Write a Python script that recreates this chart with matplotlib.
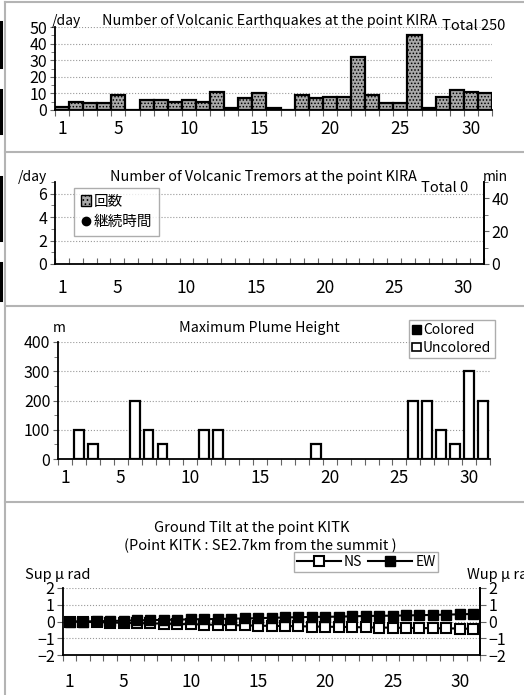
import matplotlib.pyplot as plt
import matplotlib.patches as mpatches
from matplotlib.lines import Line2D
from matplotlib.ticker import MultipleLocator, FixedLocator
import numpy as np

plt.rcParams['font.family'] = ['Noto Sans CJK JP', 'DejaVu Sans']
plt.rcParams['hatch.linewidth'] = 0.7
plt.rcParams['axes.unicode_minus'] = True

# --- data ---
days = np.arange(1, 32)
day_labels = [1, 5, 10, 15, 20, 25, 30]

quakes = [2, 5, 4, 4, 9, 0, 6, 6, 5, 6,
          5, 11, 1, 7, 10, 1, 0, 9, 7, 8,
          8, 32, 9, 4, 4, 45, 1, 8, 12, 11, 10]
quake_total = 250
tremor_total = 0

plume_days = [2, 3, 6, 7, 8, 11, 12, 19, 26, 27, 28, 29, 30, 31]
plume_heights = [100, 50, 200, 100, 50, 100, 100, 50, 200, 200, 100, 50, 300, 200]

tilt_ns = [0.0, -0.02, -0.04, -0.06, -0.08, -0.1, -0.11, -0.13, -0.15, -0.16,
           -0.18, -0.2, -0.22, -0.23, -0.25, -0.26, -0.27, -0.28, -0.3, -0.31,
           -0.32, -0.33, -0.35, -0.36, -0.37, -0.38, -0.39, -0.4, -0.41, -0.42, -0.44]
tilt_ew = [0.0, 0.0, 0.02, 0.03, 0.05, 0.07, 0.08, 0.1, 0.11, 0.13,
           0.14, 0.15, 0.17, 0.18, 0.2, 0.22, 0.24, 0.26, 0.27, 0.28,
           0.29, 0.31, 0.33, 0.34, 0.35, 0.36, 0.38, 0.39, 0.41, 0.43, 0.45]

W, H = 524, 695
fig = plt.figure(figsize=(W / 100, H / 100), dpi=100)

YT = 11.5   # y tick label size
XT = 12.5   # day label size


def px_axes(left, top, right, bottom):
    return fig.add_axes([left / W, 1 - bottom / H, (right - left) / W, (bottom - top) / H])


def ftext(x, y, s, **kw):
    kw.setdefault('va', 'center')
    kw.setdefault('fontsize', 10)
    fig.text(x / W, 1 - y / H, s, **kw)


def fline(xs, ys, **kw):
    fig.add_artist(Line2D([x / W for x in xs], [1 - y / H for y in ys],
                          transform=fig.transFigure, **kw))


def day_axis(ax, tick_dir='out', pad=8):
    ax.set_xlim(0.5, 31.5)
    ax.set_xticks(day_labels)
    ax.tick_params(axis='x', which='major', length=0, labelsize=XT, pad=pad)
    ax.xaxis.set_minor_locator(FixedLocator(np.arange(0.5, 31.6, 1)))
    ax.tick_params(axis='x', which='minor', length=4, direction=tick_dir,
                   color='#666666', width=0.8)
    for s in ['top', 'right']:
        ax.spines[s].set_visible(False)
    for s in ['left', 'bottom']:
        ax.spines[s].set_linewidth(1.3)
    ax.tick_params(axis='y', which='both', labelsize=YT, pad=2, color='#666666')
    ax.tick_params(axis='y', which='minor', length=3)
    ax.yaxis.grid(True, which='major', linestyle=':', color='#999999', lw=0.8)
    ax.set_axisbelow(True)


# panel frames and left-edge artifacts
frame = '#b4b4b4'
for y in [2, 152, 306, 502]:
    fline([5, 524], [y, y], color=frame, lw=1.5)
fline([5, 5], [2, 695], color=frame, lw=1.5)
for y0, y1 in [(22, 67), (90, 133), (177, 240), (263, 300)]:
    fline([1, 1], [y0, y1], color='black', lw=2.2)

# --- panel 1: volcanic earthquakes ---
ax1 = px_axes(55, 27, 492, 110)
ax1.bar(days, quakes, width=1.0, color='#a9a9a9', edgecolor='black', lw=1.6, hatch='.....')
ax1.set_ylim(0, 50)
ax1.yaxis.set_major_locator(MultipleLocator(10))
ax1.yaxis.set_minor_locator(MultipleLocator(5))
day_axis(ax1, 'out', pad=7)
ftext(52, 21, '/day')
ftext(270, 21, 'Number of Volcanic Earthquakes at the point KIRA', ha='center', fontsize=10.3)
ftext(442, 26, f'Total {quake_total}', ha='left', fontsize=10.5)

# --- panel 2: volcanic tremors ---
ax2 = px_axes(55, 182, 484, 264)
ax2.set_ylim(0, 7)
ax2.yaxis.set_major_locator(MultipleLocator(2))
ax2.yaxis.set_minor_locator(MultipleLocator(1))
day_axis(ax2, 'in', pad=11)
ax2.spines['right'].set_visible(True)
ax2.spines['right'].set_linewidth(1.3)
ax2b = ax2.twinx()
ax2b.set_ylim(0, 50)
ax2b.yaxis.set_major_locator(MultipleLocator(20))
ax2b.yaxis.set_minor_locator(MultipleLocator(10))
ax2b.tick_params(axis='y', which='both', labelsize=YT, pad=2, color='#666666')
ax2b.tick_params(axis='y', which='minor', length=3)
for s in ['top', 'left', 'bottom']:
    ax2b.spines[s].set_visible(False)
ax2b.spines['right'].set_linewidth(1.3)
ftext(18, 177, '/day')
ftext(263, 177, 'Number of Volcanic Tremors at the point KIRA', ha='center', fontsize=10.3)
ftext(445, 188, f'Total {tremor_total}', ha='center', fontsize=10.5)
ftext(483, 177, 'min', ha='left')
h_count = mpatches.Patch(facecolor='#a9a9a9', edgecolor='black', hatch='....', label='回数')
h_dur = Line2D([], [], marker='o', color='black', ls='none', markersize=6, label='継続時間')
fig.legend(handles=[h_count, h_dur], loc='upper left', bbox_to_anchor=(74 / W, 1 - 188 / H),
           fontsize=10.5, frameon=True, fancybox=False, edgecolor='#999999',
           handlelength=0.7, handleheight=0.7, handletextpad=0.2, labelspacing=0.45,
           borderpad=0.45, borderaxespad=0)

# --- panel 3: plume height ---
ax3 = px_axes(58, 342, 490, 459)
ax3.bar(plume_days, plume_heights, width=0.7, color='white', edgecolor='black', lw=1.6)
ax3.set_ylim(0, 400)
ax3.yaxis.set_major_locator(MultipleLocator(100))
ax3.yaxis.set_minor_locator(MultipleLocator(50))
day_axis(ax3, 'out', pad=7)
ftext(59, 328, 'm', ha='center')
ftext(259, 328, 'Maximum Plume Height', ha='center', fontsize=10.3)
h_col = mpatches.Patch(facecolor='black', edgecolor='black', label='Colored')
h_unc = mpatches.Patch(facecolor='white', edgecolor='black', lw=1.2, label='Uncolored')
fig.legend(handles=[h_col, h_unc], loc='upper left', bbox_to_anchor=(409 / W, 1 - 320 / H),
           fontsize=10, frameon=True, fancybox=False, edgecolor='#999999',
           handlelength=0.6, handleheight=0.6, handletextpad=0.15, labelspacing=0.25,
           borderpad=0.25, borderaxespad=0)

# --- panel 4: ground tilt ---
ax4 = px_axes(63, 588, 480, 655)
ax4.plot(days, tilt_ns, color='black', lw=1.5, marker='s', markersize=7.5,
         markerfacecolor='white', markeredgecolor='black', markeredgewidth=1.5, label='NS')
ax4.plot(days, tilt_ew, color='black', lw=1.5, marker='s', markersize=7.5,
         markerfacecolor='black', markeredgecolor='black', label='EW')
ax4.set_ylim(-2, 2)
ax4.yaxis.set_major_locator(MultipleLocator(1))
day_axis(ax4, 'out', pad=13)
ax4.spines['right'].set_visible(True)
ax4.spines['right'].set_linewidth(1.3)
ax4.tick_params(axis='y', which='both', length=4)
ax4b = ax4.twinx()
ax4b.set_ylim(-2, 2)
ax4b.yaxis.set_major_locator(MultipleLocator(1))
ax4b.tick_params(axis='y', labelsize=YT, pad=2, length=4, color='#666666')
for s in ['top', 'left', 'bottom']:
    ax4b.spines[s].set_visible(False)
ax4b.spines['right'].set_linewidth(1.3)
ftext(252, 528, 'Ground Tilt at the point KITK', ha='center', fontsize=10.5)
ftext(260, 546, '(Point KITK : SE2.7km from the summit )', ha='center', fontsize=10.5)
ftext(25, 575, 'Sup μ rad', ha='left', fontsize=10.5)
ftext(467, 575, 'Wup μ rad', ha='left', fontsize=10.5)
fig.legend(handles=ax4.get_lines(), loc='upper left', bbox_to_anchor=(294 / W, 1 - 552 / H),
           ncol=2, fontsize=10, frameon=True, fancybox=False, edgecolor='#999999',
           handlelength=3.2, handletextpad=0.2, columnspacing=0.4, markerscale=0.9,
           borderpad=0.2, borderaxespad=0)

fig.savefig('out.png', dpi=100)
